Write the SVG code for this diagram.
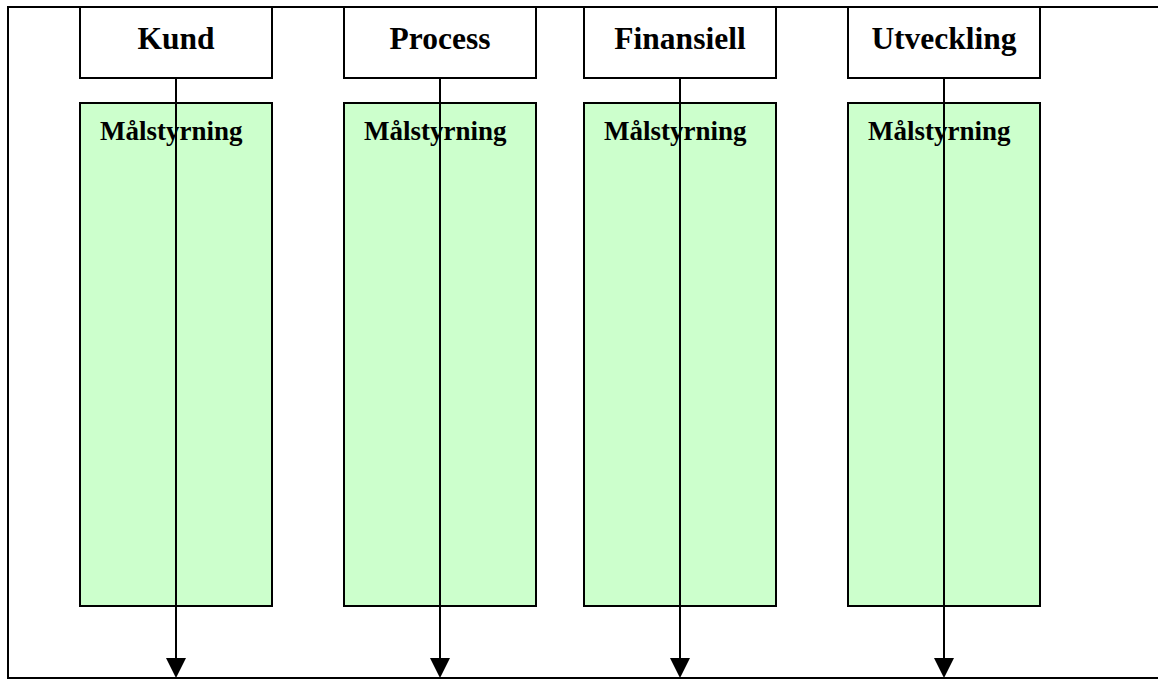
<svg xmlns="http://www.w3.org/2000/svg" width="1158" height="679" viewBox="0 0 1158 679">
<style>
.hdr{fill:#fff;stroke:#000;stroke-width:2}
.grn{fill:#ccffcc;stroke:#000;stroke-width:2}
.ht{font-family:"Liberation Serif",serif;font-weight:bold;font-size:31.5px;text-anchor:middle}
.mt{font-family:"Liberation Serif",serif;font-weight:bold;font-size:27px}
.ln{stroke:#000;stroke-width:2;fill:none}
</style>
<g id="frame"><path class="ln" d="M1158,7 H8 V678 H1158"/></g>
<g id="kund"><rect class="hdr" x="80" y="7" width="192" height="71"/><text class="ht" x="176" y="49">Kund</text></g>
<g id="process"><rect class="hdr" x="344" y="7" width="192" height="71"/><text class="ht" x="440" y="49">Process</text></g>
<g id="finansiell"><rect class="hdr" x="584" y="7" width="192" height="71"/><text class="ht" x="680" y="49">Finansiell</text></g>
<g id="utveckling"><rect class="hdr" x="848" y="7" width="192" height="71"/><text class="ht" x="944" y="49">Utveckling</text></g>
<g id="mal1"><rect class="grn" x="80" y="103" width="192" height="503"/><text class="mt" x="100" y="140">Målstyrning</text></g>
<g id="mal2"><rect class="grn" x="344" y="103" width="192" height="503"/><text class="mt" x="364" y="140">Målstyrning</text></g>
<g id="mal3"><rect class="grn" x="584" y="103" width="192" height="503"/><text class="mt" x="604" y="140">Målstyrning</text></g>
<g id="mal4"><rect class="grn" x="848" y="103" width="192" height="503"/><text class="mt" x="868" y="140">Målstyrning</text></g>
<g id="connectors">
<line class="ln" x1="176" y1="78" x2="176" y2="660"/><path d="M166,658 H186 L176,678 Z"/>
<line class="ln" x1="440" y1="78" x2="440" y2="660"/><path d="M430,658 H450 L440,678 Z"/>
<line class="ln" x1="680" y1="78" x2="680" y2="660"/><path d="M670,658 H690 L680,678 Z"/>
<line class="ln" x1="944" y1="78" x2="944" y2="660"/><path d="M934,658 H954 L944,678 Z"/>
</g>
</svg>
